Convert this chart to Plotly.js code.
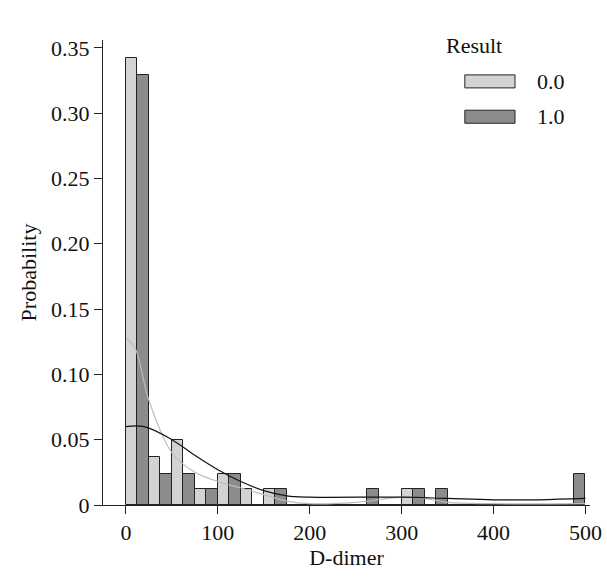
<html><head><script src="https://cdn.plot.ly/plotly-3.0.1.min.js"></script></head><body style="margin:0">
<div id="c" style="width:607px;height:577px"></div>
<script>
const bins=[0,25,50,75,100,125,150,175,200,225,250,275,300,325,350,375,400,425,450,475];
const prob0=[0.342,0.037,0.05,0.012,0.024,0.012,0.012,0,0,0,0,0,0.012,0,0,0,0,0,0,0];
const prob1=[0.329,0.024,0.024,0.012,0.024,0,0.012,0,0,0,0.012,0,0.012,0.012,0,0,0,0,0,0.024];
const kdeX0=[0,10,25,50,75,100,125,150,175,200,250,300,325,350,400,500];
const kdeY0=[0.128,0.12,0.08,0.04,0.025,0.018,0.013,0.008,0.003,0.001,0.002,0.006,0.005,0.002,0.001,0.001];
const kdeX1=[0,20,50,75,100,125,150,175,200,300,350,400,450,500];
const kdeY1=[0.06,0.06,0.05,0.038,0.027,0.018,0.011,0.007,0.006,0.006,0.005,0.004,0.004,0.005];
const names=['0.0','1.0'];
const fills=['#d3d3d3','#8c8c8c'];
const ctr=bins.map(b=>b+12.5);
const data=[
{type:'bar',x:ctr,y:prob0,name:names[0],marker:{color:fills[0],line:{color:'#222',width:1}}},
{type:'bar',x:ctr,y:prob1,name:names[1],marker:{color:fills[1],line:{color:'#222',width:1}}},
{type:'scatter',mode:'lines',x:kdeX0,y:kdeY0,line:{color:'#bbbbbb',width:1.2,shape:'spline'}},
{type:'scatter',mode:'lines',x:kdeX1,y:kdeY1,line:{color:'#111',width:1.2,shape:'spline'}}];
const ax={showgrid:false,zeroline:false,showline:true,linecolor:'#222',ticks:'outside',ticklen:8,tickcolor:'#222',tickfont:{size:22}};
const shapes=[],ann=[{xref:'paper',yref:'paper',x:0.762,y:0.989,xanchor:'center',yanchor:'middle',text:'Result',showarrow:false,font:{size:22}}];
[[0.925,0.897,0.911],[0.849,0.821,0.835]].forEach((r,i)=>{
 shapes.push({type:'rect',xref:'paper',yref:'paper',x0:0.743,x1:0.846,y0:r[1],y1:r[0],fillcolor:fills[i],line:{color:'#222',width:1}});
 ann.push({xref:'paper',yref:'paper',x:0.887,y:r[2],xanchor:'left',yanchor:'middle',text:names[i],showarrow:false,font:{size:22}});
});
Plotly.newPlot('c',data,{width:607,height:577,margin:{l:103,r:17,t:40,b:72},showlegend:false,
font:{family:'Liberation Serif',color:'#111',size:22},shapes:shapes,annotations:ann,
barmode:'group',bargap:0,bargroupgap:0,plot_bgcolor:'white',paper_bgcolor:'white',
xaxis:Object.assign({},ax,{range:[-25,505],tickvals:[0,100,200,300,400,500],title:{text:'D-dimer',font:{size:22},standoff:2}}),
yaxis:Object.assign({},ax,{range:[0,0.356],tickvals:[0,0.05,0.1,0.15,0.2,0.25,0.3,0.35],ticktext:['0','0.05','0.10','0.15','0.20','0.25','0.30','0.35'],title:{text:'Probability',font:{size:22},standoff:8}})
},{displayModeBar:false});
</script></body></html>
